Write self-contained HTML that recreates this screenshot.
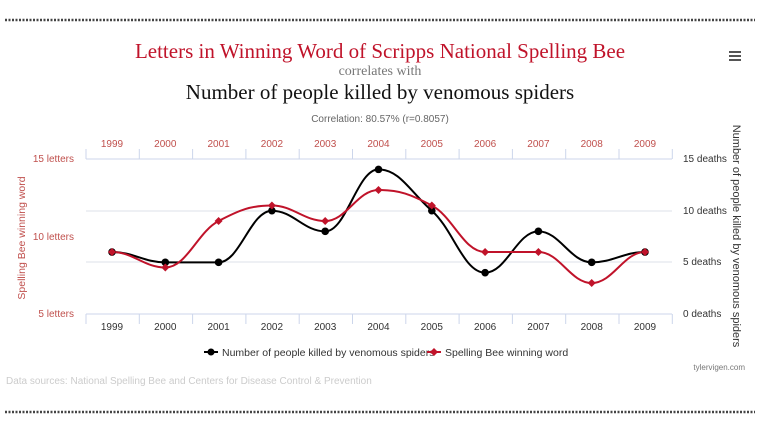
<!DOCTYPE html>
<html><head><meta charset="utf-8"><style>
body{margin:0;width:760px;height:430px;background:#fff;overflow:hidden;font-family:"Liberation Sans",sans-serif}
</style></head><body>
<svg id="s" width="760" height="430" xmlns="http://www.w3.org/2000/svg" font-family="Liberation Sans, sans-serif">
<line x1="5" y1="20" x2="755" y2="20" stroke="#444" stroke-width="2.5" stroke-dasharray="2,1.5"/>
<line x1="5" y1="412" x2="755" y2="412" stroke="#444" stroke-width="2.5" stroke-dasharray="2,1.5"/>
<text x="380" y="58" text-anchor="middle" font-family="Liberation Serif, serif" font-size="21" fill="#c0132a">Letters in Winning Word of Scripps National Spelling Bee</text>
<text x="380" y="75" text-anchor="middle" font-family="Liberation Serif, serif" font-size="14" fill="#777">correlates with</text>
<text x="380" y="99" text-anchor="middle" font-family="Liberation Serif, serif" font-size="21" fill="#111">Number of people killed by venomous spiders</text>
<text x="380" y="122" text-anchor="middle" font-size="10" fill="#666">Correlation: 80.57% (r=0.8057)</text>
<g fill="#555"><rect x="729" y="51" width="12" height="2"/><rect x="729" y="55" width="12" height="2"/><rect x="729" y="59" width="12" height="2"/></g>
<g stroke="#dde2ea" stroke-width="1">
<line x1="86" y1="211" x2="672" y2="211"/><line x1="86" y1="262" x2="672" y2="262"/>
</g>
<g stroke="#ccd6eb" stroke-width="1"><line x1="86" y1="159" x2="672" y2="159"/><line x1="86" y1="314" x2="672" y2="314"/></g>
<g id="ticks" stroke="#ccd6eb"></g>
<g id="lab" font-size="10"></g>
<text x="74" y="162" text-anchor="end" font-size="10" fill="#c0504d">15 letters</text>
<text x="74" y="240" text-anchor="end" font-size="10" fill="#c0504d">10 letters</text>
<text x="74" y="317" text-anchor="end" font-size="10" fill="#c0504d">5 letters</text>
<text x="683" y="162" font-size="10" fill="#333">15 deaths</text>
<text x="683" y="214" font-size="10" fill="#333">10 deaths</text>
<text x="683" y="265" font-size="10" fill="#333">5 deaths</text>
<text x="683" y="317" font-size="10" fill="#333">0 deaths</text>
<text transform="translate(25,238) rotate(-90)" text-anchor="middle" font-size="10.5" fill="#c0504d">Spelling Bee winning word</text>
<text transform="translate(733,236) rotate(90)" text-anchor="middle" font-size="11" fill="#333">Number of people killed by venomous spiders</text>
<g id="series"></g>
<line x1="204" y1="352" x2="218" y2="352" stroke="#000" stroke-width="2"/><circle cx="211" cy="352" r="3.5"/>
<text x="222" y="356" font-size="10.5" fill="#333">Number of people killed by venomous spiders</text>
<line x1="427" y1="352" x2="441" y2="352" stroke="#c0132a" stroke-width="2"/><path d="M434 348L438 352L434 356L430 352Z" fill="#c0132a"/>
<text x="445" y="356" font-size="10.5" fill="#333">Spelling Bee winning word</text>
<text x="745" y="370" text-anchor="end" font-size="8" fill="#777">tylervigen.com</text>
<text x="6" y="384" font-size="10" fill="#ccc">Data sources: National Spelling Bee and Centers for Disease Control &amp; Prevention</text>
</svg>
<script>
var NS="http://www.w3.org/2000/svg",s=document.getElementById('s');
function el(p,t,a,txt){var e=document.createElementNS(NS,t);for(var k in a)e.setAttribute(k,a[k]);if(txt)e.textContent=txt;document.getElementById(p).appendChild(e);return e;}
var x0=112,dx=53.3;
for(var i=0;i<=11;i++){var x=86+i*53.3;el('ticks','line',{x1:x,y1:159,x2:x,y2:149});el('ticks','line',{x1:x,y1:314,x2:x,y2:324});}
for(var i=0;i<11;i++){var x=x0+i*dx;el('lab','text',{x:x,y:147,'text-anchor':'middle',fill:'#c0504d'},String(1999+i));el('lab','text',{x:x,y:330,'text-anchor':'middle',fill:'#333'},String(1999+i));}
var d=[6,5,5,10,8,14,10,4,8,5,6],l=[9,8,11,12,11,13,12,9,9,7,9];
var pd=d.map(function(v,i){return[x0+i*dx,314-v*10.33]}),pl=l.map(function(v,i){return[x0+i*dx,314-(v-5)*15.5]});
function path(p){var s='M'+p[0][0]+' '+p[0][1];for(var i=0;i<p.length-1;i++){var a=p[Math.max(i-1,0)],b=p[i],c=p[i+1],e=p[Math.min(i+2,p.length-1)];var k=0.18;
var c1=[b[0]+dx*0.4,b[1]+(c[1]-a[1])*k*(i==0?0:1)],c2=[c[0]-dx*0.4,c[1]-(e[1]-b[1])*k*(i+1==p.length-1?0:1)];
if((b[1]-a[1])*(c[1]-b[1])<=0&&i>0)c1[1]=b[1];if((c[1]-b[1])*(e[1]-c[1])<=0&&i+1<p.length-1)c2[1]=c[1];
s+=' C'+c1[0]+' '+c1[1]+' '+c2[0]+' '+c2[1]+' '+c[0]+' '+c[1];}return s;}
el('series','path',{d:path(pd),fill:'none',stroke:'#000','stroke-width':2});
el('series','path',{d:path(pl),fill:'none',stroke:'#c0132a','stroke-width':2});
pd.forEach(function(p){el('series','circle',{cx:p[0],cy:p[1],r:3.8,fill:'#000'})});
pl.forEach(function(p){el('series','path',{d:'M'+p[0]+' '+(p[1]-4)+'l4 4l-4 4l-4 -4z',fill:'#c0132a'})});
</script>
</body></html>
